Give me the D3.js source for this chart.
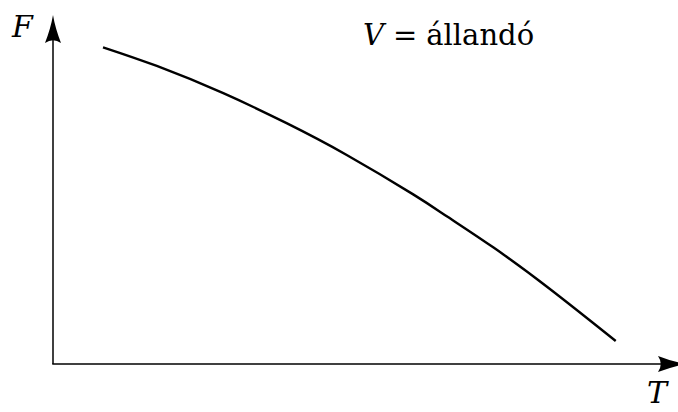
<!DOCTYPE html>
<html>
<head>
<meta charset="utf-8">
<script src="https://cdn.jsdelivr.net/npm/d3@7"></script>
<style>
  html, body { margin: 0; padding: 0; background: #fff; }
  svg { display: block; }
  svg text { font-family: "DejaVu Serif", "Liberation Serif", serif; }
</style>
</head>
<body>
<script>
// Free energy F against temperature T at constant volume
const temperature = [7.9, 16.4, 26.9, 36.9, 46.4, 56.9, 62.4, 69.6, 78.5, 88.9];
const freeEnergy  = [90.75, 85.4, 77.6, 69.0, 59.9, 48.6, 42.1, 33.35, 21.5, 6.6];
const axisLabels = ["T", "F"];
const conditionLabel = ["V", "=", "állandó"];

const width = 678, height = 412;

const svg = d3.select("body").append("svg")
  .attr("width", width)
  .attr("height", height);

const x = d3.scaleLinear().domain([0, 100]).range([53, 686]);
const y = d3.scaleLinear().domain([0, 100]).range([364, 15]);

// LaTeX-style arrow head, tip at origin pointing up
const arrowPath = "M0,0 Q2.2,13 8,28 Q0,22.5 -8,28 Q-2.2,13 0,0 Z";

// axes
svg.append("line")
  .attr("x1", x(0)).attr("y1", y(0))
  .attr("x2", x(0)).attr("y2", y(100) + 20)
  .attr("stroke", "#000").attr("stroke-width", 1.5);
svg.append("path")
  .attr("d", arrowPath)
  .attr("transform", `translate(${x(0)},${y(100)})`)
  .attr("fill", "#000");

svg.append("line")
  .attr("x1", x(0) - 0.75).attr("y1", y(0))
  .attr("x2", x(100) - 20).attr("y2", y(0))
  .attr("stroke", "#000").attr("stroke-width", 1.5);
svg.append("path")
  .attr("d", arrowPath)
  .attr("transform", `translate(${x(100)},${y(0)}) rotate(90)`)
  .attr("fill", "#000");

// curve
const pts = temperature.map((t, i) => [t, freeEnergy[i]]);
const line = d3.line()
  .x(d => x(d[0]))
  .y(d => y(d[1]))
  .curve(d3.curveNatural);

svg.append("path")
  .datum(pts)
  .attr("d", line)
  .attr("fill", "none")
  .attr("stroke", "#000")
  .attr("stroke-width", 2.4);

// axis labels
svg.append("text")
  .attr("x", 647).attr("y", 403)
  .attr("font-size", 30).attr("font-style", "italic")
  .text(axisLabels[0]);
svg.append("text")
  .attr("x", 12).attr("y", 37)
  .attr("font-size", 30).attr("font-style", "italic")
  .text(axisLabels[1]);

// condition annotation
const cond = svg.append("text")
  .attr("x", 363).attr("y", 45)
  .attr("font-size", 29);
cond.append("tspan").attr("font-style", "italic").text(conditionLabel[0]);
cond.append("tspan").attr("dx", 9).text(conditionLabel[1]);
cond.append("tspan").attr("dx", 9).text(conditionLabel[2]);
</script>
</body>
</html>
